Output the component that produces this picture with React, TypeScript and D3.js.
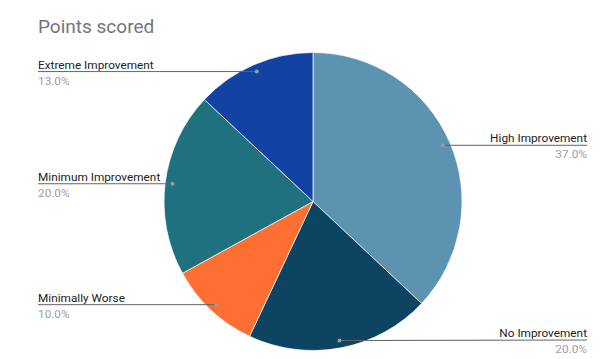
import React, { useEffect, useRef } from 'react'
import * as d3 from 'd3'

const categories = [
  'High Improvement',
  'No Improvement',
  'Minimally Worse',
  'Minimum Improvement',
  'Extreme Improvement',
]
const shares = [37, 20, 10, 20, 13]
const colors = ['#5b93b0', '#0d4461', '#fd6f32', '#1f717f', '#1242a3']

const App: React.FC = () => {
  const ref = useRef<SVGSVGElement | null>(null)

  useEffect(() => {
    const width = 600
    const height = 359
    const cx = 313
    const cy = 201.5
    const radius = 149

    const svg = d3.select(ref.current)
    svg.selectAll('*').remove()
    svg.attr('width', width).attr('height', height)

    svg
      .append('rect')
      .attr('width', width)
      .attr('height', height)
      .attr('fill', '#ffffff')

    // title
    svg
      .append('text')
      .attr('x', 38)
      .attr('y', 33)
      .attr('font-family', 'Roboto, Arial, sans-serif')
      .attr('font-size', 19)
      .attr('fill', '#757575')
      .text('Points scored')

    const data = categories.map((c, i) => ({ label: c, value: shares[i], color: colors[i] }))
    const pie = d3
      .pie<{ label: string; value: number; color: string }>()
      .value((d) => d.value)
      .sort(null)
    const arcs = pie(data)

    const arc = d3
      .arc<d3.PieArcDatum<{ label: string; value: number; color: string }>>()
      .innerRadius(0)
      .outerRadius(radius)
    const dotArc = d3
      .arc<d3.PieArcDatum<{ label: string; value: number; color: string }>>()
      .innerRadius(radius * 0.95)
      .outerRadius(radius * 0.95)

    const g = svg.append('g').attr('transform', `translate(${cx},${cy})`)
    g.selectAll('path')
      .data(arcs)
      .enter()
      .append('path')
      .attr('d', arc)
      .attr('fill', (d) => d.data.color)
      .attr('stroke', '#ffffff')
      .attr('stroke-width', 0.7)

    const total = d3.sum(shares)
    const labels = svg.append('g').attr('font-family', 'Roboto, Arial, sans-serif')

    arcs.forEach((d) => {
      const [dx, dy] = dotArc.centroid(d)
      const px = cx + dx
      const py = cy + dy
      const right = dx > 0
      const ly = Math.min(py, 340)
      const lx = right ? 587 : 38

      labels
        .append('line')
        .attr('x1', px)
        .attr('y1', py)
        .attr('x2', lx)
        .attr('y2', ly)
        .attr('stroke', '#636363')
        .attr('stroke-width', 1)

      labels
        .append('circle')
        .attr('cx', px)
        .attr('cy', py)
        .attr('r', 2)
        .attr('fill', '#9a9a9a')

      labels
        .append('text')
        .attr('x', lx)
        .attr('y', ly - 3)
        .attr('text-anchor', right ? 'end' : 'start')
        .attr('font-size', 11.8)
        .attr('fill', '#222222')
        .text(d.data.label)

      labels
        .append('text')
        .attr('x', lx)
        .attr('y', ly + 13)
        .attr('text-anchor', right ? 'end' : 'start')
        .attr('font-size', 11.8)
        .attr('fill', '#9e9e9e')
        .text(`${((d.data.value / total) * 100).toFixed(1)}%`)
    })
  }, [])

  return (
    <svg
      ref={ref}
      style={{ position: 'absolute', left: 0, top: 0, display: 'block' }}
    ></svg>
  )
}

export default App
